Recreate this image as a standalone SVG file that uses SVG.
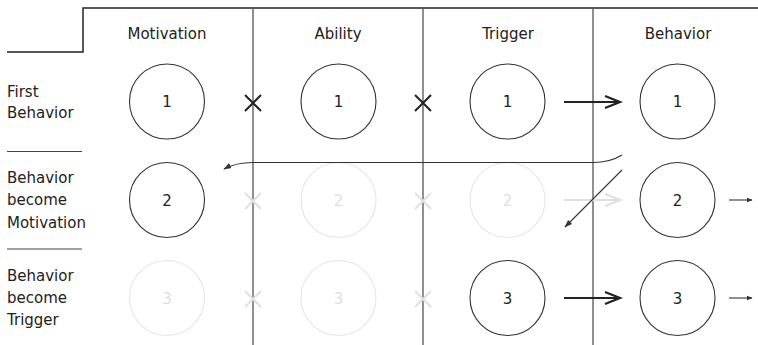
<svg xmlns="http://www.w3.org/2000/svg" width="758" height="345" viewBox="0 0 758 345">
<style>
text{font-family:"DejaVu Sans","Liberation Sans",sans-serif;font-size:15px;fill:#222}
.hd{text-anchor:middle}
.num{text-anchor:middle;font-size:15px}
.c{fill:none;stroke:#333;stroke-width:1.1}
.cf{fill:none;stroke:#e6e6e6;stroke-width:1.1}
.tf{fill:#e0e0e0}
.grid{stroke:#555;stroke-width:1.3;fill:none}
.frame{stroke:#222;stroke-width:1.5;fill:none}
.x{stroke:#222;stroke-width:2}
.xf{stroke:#e0e0e0;stroke-width:2}
.big{stroke:#222;stroke-width:2.2;fill:none}
.bigf{stroke:#e0e0e0;stroke-width:2.2;fill:none}
.thin{stroke:#333;stroke-width:1.1;fill:none}
</style>
<defs>
<marker id="sm" viewBox="0 0 10 10" refX="9" refY="5" markerWidth="6" markerHeight="6" markerUnits="userSpaceOnUse" orient="auto"><path d="M0,1 L10,5 L0,9 Z" fill="#333"/></marker>
<marker id="sm2" viewBox="0 0 10 10" refX="9" refY="5" markerWidth="8" markerHeight="8" markerUnits="userSpaceOnUse" orient="auto"><path d="M0,1.5 L10,5 L0,8.5 Z" fill="#333"/></marker>
</defs>
<g id="frame">
<path class="frame" d="M7,52 H83 V8 H758"/>
<path class="grid" d="M253,8 V345 M423,8 V345 M593,8 V345"/>
<path stroke="#444" stroke-width="1" d="M7,151.5 H82 M7,249 H82"/>
</g>
<g id="headers">
<text class="hd" x="167" y="39">Motivation</text>
<text class="hd" x="338" y="39">Ability</text>
<text class="hd" x="508" y="39">Trigger</text>
<text class="hd" x="678" y="39">Behavior</text>
</g>
<g id="row-labels">
<text x="7" y="97">First</text>
<text x="7" y="118">Behavior</text>
<text x="7" y="183">Behavior</text>
<text x="7" y="205">become</text>
<text x="7" y="228">Motivation</text>
<text x="7" y="281">Behavior</text>
<text x="7" y="303">become</text>
<text x="7" y="325">Trigger</text>
</g>
<g id="m1"><circle class="c" cx="167" cy="101.5" r="37.5"/><text class="num" x="167" y="107">1</text></g>
<g id="a1"><circle class="c" cx="338.5" cy="101.5" r="37.5"/><text class="num" x="338.5" y="107">1</text></g>
<g id="t1"><circle class="c" cx="507.5" cy="101.5" r="37.5"/><text class="num" x="507.5" y="107">1</text></g>
<g id="b1"><circle class="c" cx="677.5" cy="101.5" r="37.5"/><text class="num" x="677.5" y="107">1</text></g>
<g id="m2"><circle class="c" cx="167" cy="200" r="37.5"/><text class="num" x="167" y="205.5">2</text></g>
<g id="a2"><circle class="cf" cx="338.5" cy="200" r="37.5"/><text class="num tf" x="338.5" y="205.5">2</text></g>
<g id="t2"><circle class="cf" cx="507.5" cy="200" r="37.5"/><text class="num tf" x="507.5" y="205.5">2</text></g>
<g id="b2"><circle class="c" cx="677.5" cy="200" r="37.5"/><text class="num" x="677.5" y="205.5">2</text></g>
<g id="m3"><circle class="cf" cx="167" cy="298" r="37.5"/><text class="num tf" x="167" y="303.5">3</text></g>
<g id="a3"><circle class="cf" cx="338.5" cy="298" r="37.5"/><text class="num tf" x="338.5" y="303.5">3</text></g>
<g id="t3"><circle class="c" cx="507.5" cy="298" r="37.5"/><text class="num" x="507.5" y="303.5">3</text></g>
<g id="b3"><circle class="c" cx="677.5" cy="298" r="37.5"/><text class="num" x="677.5" y="303.5">3</text></g>
<g id="connectors">
<path class="x" d="M245,95 L261,111 M261,95 L245,111"/>
<path class="x" d="M415,95 L431,111 M431,95 L415,111"/>
<path class="xf" d="M245,193 L261,209 M261,193 L245,209 M415,193 L431,209 M431,193 L415,209"/>
<path class="xf" d="M245,291 L261,307 M261,291 L245,307 M415,291 L431,307 M431,291 L415,307"/>
<path class="big" d="M564,102 H620 M605,96 L620,102 L605,108"/>
<path class="bigf" d="M564,200 H620 M605,194 L620,200 L605,206"/>
<path class="big" d="M564,298 H620 M605,292 L620,298 L605,304"/>
<path class="thin" d="M729,200 H752" marker-end="url(#sm)"/>
<path class="thin" d="M729,298 H752" marker-end="url(#sm)"/>
<path class="thin" d="M622,155 Q610,162.5 593,162.5 H253 Q236,162.5 224,169" marker-end="url(#sm2)"/>
<path class="thin" d="M622,170 L565,227" marker-end="url(#sm2)"/>
</g>
</svg>
